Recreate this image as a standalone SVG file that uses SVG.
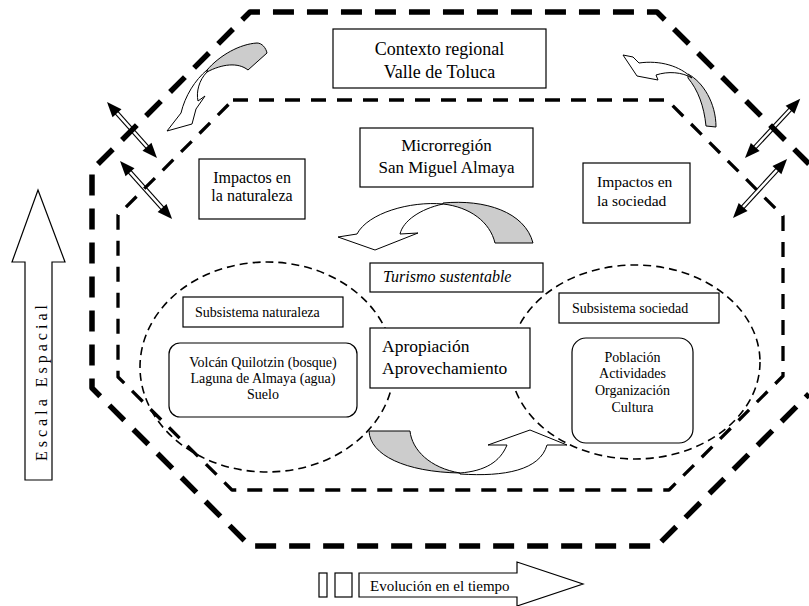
<svg xmlns="http://www.w3.org/2000/svg" width="809" height="606" viewBox="0 0 809 606">
<style>
.bg{fill:#fff}
.outer{fill:none;stroke:#000;stroke-width:5.5;stroke-dasharray:21 13;stroke-linejoin:round}
.inner{fill:none;stroke:#000;stroke-width:3.3;stroke-dasharray:15 11;stroke-linejoin:round}
.ell{fill:none;stroke:#000;stroke-width:1.6;stroke-dasharray:8 5}
.box{fill:#fff;stroke:#000;stroke-width:1.2}
.shape{fill:#fff;stroke:#000;stroke-width:1}
.gray{fill:#cccccc;stroke:#000;stroke-width:1}
.head{fill:#000}
.dl{stroke:#000;stroke-width:1.1}
</style>
<rect class="bg" x="0" y="0" width="809" height="606"/>

<g id="frames">
<path class="outer" d="M809,164 L657,12 L250,12 L92,170 L92,388 L250,546 L657,546 L809,394"/>
<path class="inner" d="M233,100 L667,100 L783,216 L783,376 L669,490 L232,490 L118,377 L118,215 Z"/>
<ellipse class="ell" cx="267" cy="367" rx="127" ry="105"/>
<ellipse class="ell" cx="635" cy="362" rx="125" ry="97"/>
</g>

<g id="connectors">
<g id="arrow-tl1" transform="translate(107,102) rotate(48.2)">
<line class="dl" x1="13" y1="-1.8" x2="62" y2="-1.8"/><line class="dl" x1="13" y1="1.8" x2="62" y2="1.8"/>
<polygon class="head" points="0,0 15,-6 15,6"/><polygon class="head" points="75,0 60,-6 60,6"/>
</g>
<g id="arrow-tl2" transform="translate(120,161) rotate(48.1)">
<line class="dl" x1="13" y1="-1.8" x2="65" y2="-1.8"/><line class="dl" x1="13" y1="1.8" x2="65" y2="1.8"/>
<polygon class="head" points="0,0 15,-6 15,6"/><polygon class="head" points="78,0 63,-6 63,6"/>
</g>
<g id="arrow-tr1" transform="translate(745,158) rotate(-47)">
<line class="dl" x1="13" y1="-1.8" x2="68" y2="-1.8"/><line class="dl" x1="13" y1="1.8" x2="68" y2="1.8"/>
<polygon class="head" points="0,0 15,-6 15,6"/><polygon class="head" points="81,0 66,-6 66,6"/>
</g>
<g id="arrow-tr2" transform="translate(733,218) rotate(-47.5)">
<line class="dl" x1="13" y1="-1.8" x2="67" y2="-1.8"/><line class="dl" x1="13" y1="1.8" x2="67" y2="1.8"/>
<polygon class="head" points="0,0 15,-6 15,6"/><polygon class="head" points="80,0 65,-6 65,6"/>
</g>

<g id="curve-tl">
<path class="gray" d="M207,70 C220,55 240,44 257,43 C262,43 266,48 267,53 L248,70 C238,62 222,64 207,72 Z"/>
<path class="shape" d="M207,70 C195,80 185,96 181,113 L167,131 L192,124 L196,109 L205,96 L198,101 C196,92 199,80 207,72 Z"/>
</g>
<g id="curve-tr">
<path class="gray" d="M688,74 C703,82 716,103 716,127 L706,126 C704,106 698,90 688,78 Z"/>
<path class="shape" d="M623,55 L633,57 L639,63 C660,60 680,66 692,78 C682,72 668,71 656,75 L658,80 L637,76 Z"/>
</g>
<g id="curve-center">
<path class="gray" d="M443,203 C485,199 525,212 533,243 L495,243 C490,222 470,207 443,204 Z"/>
<path class="shape" d="M357,234 L338,237 L375,250 L418,233 L400,234 C403,221 420,209 443,204 C410,201 368,213 357,234 Z"/>
</g>
<g id="curve-bottom">
<path class="gray" d="M369,431 L410,431 C412,450 430,468 460,473 C405,472 370,455 369,431 Z"/>
<path class="shape" d="M460,474 C505,477 540,470 547,445 L567,445 L530,430 L488,445 L507,445 C500,462 485,471 460,473 Z"/>
</g>
</g>

<g font-family="Liberation Serif, Times New Roman, serif" fill="#000">
<g id="contexto">
<rect class="box" x="333" y="29" width="213" height="59"/>
<text x="439.5" y="55" font-size="18" text-anchor="middle">Contexto regional</text>
<text x="439.5" y="78" font-size="18" text-anchor="middle">Valle de Toluca</text>
</g>
<g id="microrregion">
<rect class="box" x="360" y="128" width="173" height="59"/>
<text x="446.5" y="151" font-size="17" text-anchor="middle">Microrregión</text>
<text x="446.5" y="173" font-size="17" text-anchor="middle">San Miguel Almaya</text>
</g>
<g id="impactos-naturaleza">
<rect class="box" x="199" y="159" width="106" height="60"/>
<text x="252" y="183" font-size="16" text-anchor="middle">Impactos en</text>
<text x="252" y="201" font-size="16" text-anchor="middle">la naturaleza</text>
</g>
<g id="impactos-sociedad">
<rect class="box" x="583" y="163" width="107" height="60"/>
<text x="597" y="187" font-size="15.5">Impactos en</text>
<text x="597" y="206" font-size="15.5">la sociedad</text>
</g>
<g id="turismo">
<rect class="box" x="370" y="263" width="173" height="29"/>
<text x="383" y="282" font-size="16" font-style="italic">Turismo sustentable</text>
</g>
<g id="subsistema-naturaleza">
<rect class="box" x="183" y="297" width="160" height="30"/>
<text x="195" y="317" font-size="14">Subsistema naturaleza</text>
</g>
<g id="naturaleza-elementos">
<rect class="box" x="169" y="343" width="188" height="74" rx="11"/>
<text x="263" y="367" font-size="14" text-anchor="middle">Volcán Quilotzin (bosque)</text>
<text x="263" y="383" font-size="14" text-anchor="middle">Laguna de Almaya (agua)</text>
<text x="263" y="399" font-size="14" text-anchor="middle">Suelo</text>
</g>
<g id="apropiacion">
<rect class="box" x="370" y="328" width="160" height="60"/>
<text x="382" y="352" font-size="17.5">Apropiación</text>
<text x="382" y="374" font-size="17.5">Aprovechamiento</text>
</g>
<g id="subsistema-sociedad">
<rect class="box" x="559" y="293" width="160" height="30"/>
<text x="572" y="313" font-size="14">Subsistema sociedad</text>
</g>
<g id="sociedad-elementos">
<rect class="box" x="572" y="338" width="121" height="105" rx="14"/>
<text x="632.5" y="362" font-size="14" text-anchor="middle">Población</text>
<text x="632.5" y="378" font-size="14" text-anchor="middle">Actividades</text>
<text x="632.5" y="395" font-size="14" text-anchor="middle">Organización</text>
<text x="632.5" y="412" font-size="14" text-anchor="middle">Cultura</text>
</g>
<g id="escala-espacial">
<polygon class="box" points="25,480 25,262 12,262 38,190 65,262 52,262 52,480"/>
<text transform="translate(47,461) rotate(-90)" font-size="16" letter-spacing="4">Escala Espacial</text>
</g>
<g id="evolucion">
<rect class="box" x="319" y="573" width="8" height="24"/>
<rect class="box" x="335" y="573" width="17" height="24"/>
<polygon class="box" points="359,573 517,573 517,562 583,584 517,606 517,597 359,597"/>
<text x="370" y="591" font-size="15">Evolución en el tiempo</text>
</g>
</g>
</svg>
